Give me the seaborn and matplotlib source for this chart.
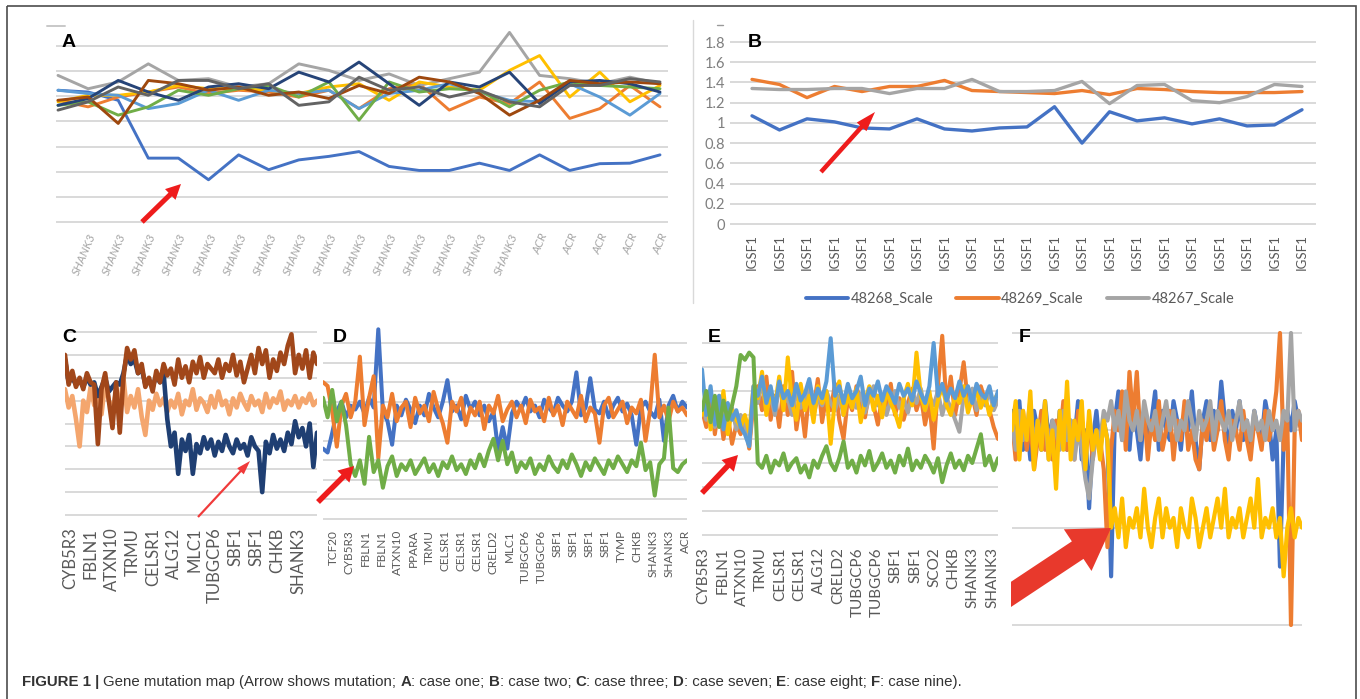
import numpy as np
import pandas as pd
import matplotlib
matplotlib.use("Agg")
import matplotlib.pyplot as plt
import seaborn as sns
from matplotlib import font_manager
from matplotlib.patches import FancyArrow, Rectangle
from matplotlib.lines import Line2D

W, H = 1360, 699

# ---------------- data ----------------
# panel A (case one), 21 points, gridline units 0..7
a_labels = ["SHANK3"] * 15 + ["ACR"] * 5
a_blue = [5.24, 5.17, 4.84, 2.54, 2.54, 1.68, 2.67, 2.08, 2.47, 2.61, 2.80, 2.21, 2.05, 2.05, 2.34, 2.05, 2.67, 2.05, 2.32, 2.34, 2.67]
a_orange = [4.84, 4.58, 4.97, 5.17, 5.37, 5.11, 5.24, 5.17, 4.97, 5.24, 4.51, 5.30, 5.50, 4.45, 4.97, 4.71, 5.57, 4.12, 4.51, 5.43, 4.58]
a_gray = [5.83, 5.30, 5.57, 6.29, 5.63, 5.70, 5.37, 5.50, 6.29, 6.03, 5.63, 5.89, 5.43, 5.70, 5.96, 7.54, 5.83, 5.70, 5.50, 5.76, 5.50]
a_yellow = [4.78, 5.04, 5.04, 5.17, 5.43, 5.30, 5.30, 5.24, 5.11, 5.37, 5.50, 4.84, 5.57, 5.37, 5.24, 6.03, 6.62, 4.97, 5.96, 4.78, 5.43]
a_lightblue = [5.24, 5.11, 5.04, 4.51, 4.71, 5.24, 4.84, 5.24, 5.11, 5.24, 4.51, 5.11, 5.24, 5.50, 5.17, 4.84, 4.78, 5.50, 4.97, 4.25, 5.11]
a_green = [4.64, 4.78, 4.25, 4.58, 5.24, 5.04, 5.30, 5.43, 4.97, 5.57, 4.05, 5.57, 5.17, 5.30, 5.24, 4.58, 5.24, 5.57, 5.43, 5.37, 5.30]
a_navy = [4.64, 4.91, 5.63, 5.17, 4.84, 5.37, 5.50, 5.30, 5.96, 5.57, 6.36, 5.50, 4.64, 5.57, 5.37, 5.96, 4.71, 5.57, 5.63, 5.50, 5.17]
a_brown = [4.84, 4.97, 3.92, 5.63, 5.50, 5.24, 5.37, 5.04, 5.17, 4.91, 5.43, 5.11, 5.76, 5.57, 5.11, 4.25, 4.84, 5.63, 5.50, 5.57, 5.50]
a_darkgray = [4.45, 4.78, 5.37, 5.04, 5.63, 5.63, 5.30, 5.50, 4.64, 4.78, 5.76, 5.24, 5.37, 4.97, 5.24, 4.78, 4.58, 5.43, 5.43, 5.70, 5.57]

# panel B (case two)
b_labels = ["IGSF1"] * 21
b_48268 = [1.07, 0.93, 1.04, 1.01, 0.95, 0.94, 1.04, 0.94, 0.92, 0.95, 0.96, 1.16, 0.80, 1.11, 1.02, 1.05, 0.99, 1.04, 0.97, 0.98, 1.13]
b_48269 = [1.43, 1.38, 1.25, 1.36, 1.31, 1.36, 1.36, 1.42, 1.32, 1.31, 1.30, 1.29, 1.32, 1.28, 1.34, 1.33, 1.31, 1.30, 1.30, 1.30, 1.31]
b_48267 = [1.34, 1.33, 1.33, 1.34, 1.34, 1.29, 1.34, 1.34, 1.43, 1.31, 1.31, 1.32, 1.41, 1.19, 1.37, 1.38, 1.22, 1.20, 1.26, 1.38, 1.36]
b_ticks = [0, 0.2, 0.4, 0.6, 0.8, 1, 1.2, 1.4, 1.6, 1.8]
b_ticklabels = ["0", "0.2", "0.4", "0.6", "0.8", "1", "1.2", "1.4", "1.6", "1.8"]

# panel C (case three), gridline units 0..80
c_labels = ["CYB5R3", "FBLN1", "ATXN10", "TRMU", "CELSR1", "ALG12", "MLC1",
            "TUBGCP6", "SBF1", "SBF1", "CHKB", "SHANK3"]
c_light = [55, 47, 52, 42, 30, 50, 45, 56, 48, 53, 44, 58, 50, 46, 54, 48, 60, 45, 52, 47,
           55, 43, 35, 50, 46, 53, 48, 51, 45, 50, 47, 53, 44, 50, 48, 55, 46, 51, 49, 45,
           52, 47, 54, 48, 50, 44, 51, 47, 53, 49, 46, 52, 48, 50, 45, 53, 47, 51, 49, 54,
           46, 50, 48, 52, 47, 51, 49, 53, 48, 50]
c_navy = [68, 58, 60, 57, 59, 56, 60, 57, 58, 52, 56, 60, 54, 56, 58, 57, 62, 70, 66, 68,
          62, 64, 57, 59, 56, 61, 58, 62, 42, 30, 36, 18, 33, 28, 35, 18, 31, 27, 34, 29,
          33, 26, 32, 28, 35, 30, 27, 33, 29, 31, 26, 34, 30, 28, 10, 32, 27, 35, 29, 33,
          28, 36, 31, 41, 34, 38, 30, 40, 21, 36]
c_brown = [70, 57, 63, 56, 60, 55, 62, 58, 57, 31, 55, 62, 50, 38, 58, 36, 60, 73, 68, 72,
           62, 66, 56, 60, 54, 63, 58, 66, 61, 64, 57, 68, 60, 65, 58, 67, 62, 69, 60, 66,
           64, 62, 68, 60, 66, 63, 70, 61, 67, 58, 64, 70, 62, 73, 66, 72, 60, 68, 63, 71,
           66, 74, 79, 62, 70, 64, 72, 60, 71, 66]

# panel D (case seven), gridline units 0..90
d_labels = ["TCF20", "CYB5R3", "FBLN1", "FBLN1", "ATXN10", "PPARA", "TRMU", "CELSR1",
            "CELSR1", "CELSR1", "CRELD2", "MLC1", "TUBGCP6", "TUBGCP6", "SBF1", "SBF1",
            "SBF1", "SBF1", "TYMP", "CHKB", "SHANK3", "SHANK3", "ACR"]
d_blue = [36, 34, 44, 55, 60, 52, 58, 56, 60, 54, 62, 57, 97, 55, 50, 38, 58, 53, 61, 56,
          49, 58, 53, 64, 57, 52, 60, 71, 55, 58, 51, 63, 56, 60, 53, 58, 50, 55, 35, 47,
          36, 54, 60, 56, 62, 55, 58, 52, 61, 57, 54, 62, 58, 55, 60, 75, 53, 57, 72, 56,
          54, 60, 52, 58, 62, 55, 59, 53, 38, 57, 60, 55, 52, 61, 40, 58, 63, 55, 60, 57]
d_orange = [70, 68, 55, 37, 58, 64, 52, 60, 83, 48, 62, 73, 31, 58, 52, 64, 50, 57, 60, 47,
            62, 54, 58, 50, 65, 56, 49, 39, 60, 55, 62, 48, 57, 53, 60, 46, 58, 54, 63, 50,
            56, 60, 52, 58, 49, 61, 55, 57, 50, 62, 53, 58, 48, 60, 56, 52, 63, 50, 57, 54,
            39, 58, 62, 52, 56, 60, 49, 57, 54, 61, 40, 56, 84, 52, 58, 50, 60, 55, 57, 53]
d_green = [62, 52, 66, 50, 60, 48, 28, 22, 30, 18, 42, 24, 30, 16, 27, 32, 22, 28, 25, 30,
           23, 27, 31, 24, 28, 22, 29, 26, 32, 25, 28, 23, 30, 26, 33, 27, 35, 41, 30, 40,
           28, 34, 24, 29, 26, 31, 23, 28, 25, 32, 27, 24, 30, 26, 33, 28, 22, 29, 25, 31,
           27, 23, 30, 26, 32, 28, 24, 30, 27, 39, 25, 29, 12, 28, 31, 57, 26, 24, 28, 30]

# panel E (case eight), gridline units 0..80
e_labels = ["CYB5R3", "FBLN1", "ATXN10", "TRMU", "CELSR1", "CELSR1", "ALG12", "CRELD2",
            "TUBGCP6", "TUBGCP6", "SBF1", "SBF1", "SCO2", "CHKB", "SHANK3", "SHANK3"]
e_orange = [52, 45, 58, 42, 55, 40, 50, 38, 46, 42, 48, 36, 55, 62, 52, 66, 48, 58, 45, 62,
            50, 68, 44, 56, 41, 60, 53, 65, 47, 58, 52, 63, 48, 40, 57, 52, 62, 55, 49, 60,
            54, 46, 58, 52, 63, 50, 57, 48, 55, 61, 52, 58, 46, 55, 36, 62, 83, 54, 66, 50,
            60, 72, 55, 58, 50, 62, 56, 52, 45, 40]
e_gray = [55, 48, 52, 45, 58, 50, 47, 53, 44, 50, 46, 37, 60, 55, 64, 52, 58, 50, 62, 55,
          57, 50, 60, 53, 56, 62, 50, 57, 54, 60, 55, 52, 58, 50, 62, 56, 53, 59, 51, 57,
          62, 54, 58, 50, 56, 60, 53, 57, 51, 59, 55, 61, 52, 58, 54, 60, 50, 57, 53, 48,
          43, 58, 55, 61, 52, 57, 54, 60, 52, 56]
e_yellow = [50, 58, 44, 55, 47, 60, 42, 52, 48, 45, 50, 43, 62, 57, 68, 50, 60, 54, 66, 52,
            74, 55, 48, 63, 52, 58, 47, 62, 55, 60, 38, 57, 64, 50, 58, 53, 61, 47, 56, 62,
            52, 58, 49, 60, 55, 51, 45, 57, 63, 54, 76, 58, 52, 60, 48, 56, 62, 54, 50, 58,
            55, 62, 51, 57, 60, 53, 58, 50, 56, 59]
e_blue = [69, 50, 62, 46, 58, 44, 55, 48, 52, 45, 42, 37, 62, 58, 66, 55, 62, 52, 64, 57,
          60, 54, 63, 56, 59, 65, 55, 61, 57, 64, 82, 58, 62, 55, 63, 57, 60, 66, 54, 61,
          58, 64, 56, 62, 59, 55, 63, 58, 61, 56, 64, 59, 55, 62, 80, 58, 63, 56, 61, 57,
          64, 58, 62, 55, 63, 59, 57, 62, 54, 60]
e_green = [52, 60, 47, 58, 45, 56, 48, 54, 62, 75, 73, 76, 74, 30, 28, 33, 26, 31, 29, 34,
           27, 30, 32, 26, 29, 24, 31, 28, 33, 37, 30, 27, 32, 39, 28, 31, 26, 33, 29, 35,
           27, 30, 34, 28, 31, 26, 33, 29, 36, 27, 31, 28, 33, 30, 26, 32, 22, 29, 34, 28,
           31, 27, 33, 30, 36, 42, 29, 33, 27, 32]

# panel F (case nine), gridline units 0..30
f_blue = [22, 19, 23, 18, 21, 17, 22, 20, 18, 23, 19, 21, 17, 22, 20, 18, 21, 19, 23, 17,
          20, 12, 19, 22, 18, 21, 19, 5, 21, 24, 19, 22, 18, 23, 20, 17, 22, 19, 21, 24,
          18, 22, 20, 19, 23, 21, 18, 22, 20, 24, 19, 16, 21, 23, 19, 22, 20, 25, 21, 18,
          22, 20, 23, 19, 21, 18, 22, 20, 19, 23, 21, 17, 20, 6, 19, 22, 20, 23, 21, 20]
f_orange = [21, 17, 20, 22, 18, 21, 16, 19, 22, 18, 20, 17, 21, 19, 23, 18, 20, 17, 22, 19,
            18, 21, 17, 20, 19, 16, 8, 18, 22, 20, 24, 18, 26, 21, 26, 19, 22, 17, 21, 19,
            23, 18, 20, 22, 17, 21, 19, 23, 18, 20, 17, 16, 21, 19, 22, 18, 20, 23, 19, 17,
            21, 20, 18, 22, 19, 17, 21, 20, 18, 22, 19, 21, 24, 30, 18, 21, 0, 20, 22, 19]
f_gray = [21, 18, 22, 19, 20, 23, 18, 21, 19, 22, 17, 21, 20, 18, 22, 19, 21, 17, 20, 18,
          15, 13, 17, 20, 19, 22, 21, 23, 20, 22, 19, 24, 21, 20, 22, 19, 23, 21, 20, 22,
          19, 21, 23, 20, 22, 19, 21, 20, 23, 21, 19, 22, 20, 21, 23, 19, 22, 21, 20, 22,
          19, 21, 23, 20, 21, 19, 22, 20, 21, 19, 22, 20, 21, 19, 22, 21, 30, 20, 22, 21]
f_yellow = [20, 23, 17, 22, 19, 24, 16, 21, 18, 23, 17, 20, 14, 22, 18, 25, 17, 21, 19, 23,
            16, 22, 18, 20, 17, 21, 19, 10, 12, 9, 13, 8, 11, 10, 12, 9, 14, 10, 8, 11,
            13, 9, 12, 10, 11, 8, 12, 10, 9, 13, 11, 8, 10, 12, 9, 11, 13, 10, 14, 9,
            11, 10, 12, 9, 11, 13, 10, 15, 9, 11, 10, 12, 9, 11, 5, 10, 12, 9, 11, 10]

# excel-like colours
BLUE, ORANGE, GRAY, YELLOW = "#4472C4", "#ED7D31", "#A5A5A5", "#FFC000"
LBLUE, GREEN, NAVY, BROWN, DGRAY = "#5B9BD5", "#70AD47", "#264478", "#9E480E", "#636363"
GRID = "#D9D9D9"
RED = "#EE1C1C"

# ---------------- setup ----------------
sns.set_theme(style="white")
plt.rcParams['font.family'] = ['Lato', 'DejaVu Sans']
plt.rcParams['lines.solid_joinstyle'] = 'round'

fig = plt.figure(figsize=(W / 100, H / 100), dpi=100)
fig.patch.set_facecolor("white")


def data_axes(xp, xv, yp, yv, xlim, ylim):
    # place an axes so that data values xv/yv land on pixel positions xp/yp
    sx = (xp[1] - xp[0]) / (xv[1] - xv[0])
    sy = (yp[1] - yp[0]) / (yv[1] - yv[0])
    x0 = xp[0] + (xlim[0] - xv[0]) * sx
    x1 = xp[0] + (xlim[1] - xv[0]) * sx
    ytop = yp[0] + (ylim[1] - yv[0]) * sy
    ybot = yp[0] + (ylim[0] - yv[0]) * sy
    ax = fig.add_axes([x0 / W, 1 - ybot / H, (x1 - x0) / W, (ybot - ytop) / H])
    ax.set_xlim(*xlim)
    ax.set_ylim(*ylim)
    return ax


def long_df(series):
    frames = [pd.DataFrame({"x": np.arange(len(v)), "y": v, "series": k})
              for k, v in series.items()]
    return pd.concat(frames, ignore_index=True)


def draw(ax, series, colors, lw):
    df = long_df(series)
    names = list(series.keys())
    sns.lineplot(data=df, x="x", y="y", hue="series", hue_order=names,
                 palette=dict(zip(names, colors)), linewidth=lw,
                 estimator=None, legend=False, ax=ax)


def style(ax, grid):
    ax.set_yticks(grid)
    ax.grid(axis="y", color=GRID, linewidth=1.4)
    ax.grid(axis="x", visible=False)
    ax.set_axisbelow(True)
    for s in ax.spines.values():
        s.set_visible(False)
    ax.tick_params(length=0)
    ax.set_xlabel("")
    ax.set_ylabel("")
    ax.patch.set_alpha(0)


# ---------------- panel A ----------------
ax_a = data_axes((58, 660), (0, 20), (222, 46), (0, 7), (-0.05, 20.27), (-0.1, 8.03))
draw(ax_a, {"1": a_blue, "2": a_orange, "3": a_gray, "4": a_yellow, "5": a_lightblue,
            "6": a_green, "7": a_navy, "8": a_brown, "9": a_darkgray},
     [BLUE, ORANGE, GRAY, YELLOW, LBLUE, GREEN, NAVY, BROWN, DGRAY], 2.1)
style(ax_a, range(0, 8))
ax_a.set_yticklabels([])
ax_a.set_xticks(np.arange(1, 21))
ax_a.set_xticklabels(a_labels, rotation=67, ha="right", va="top", rotation_mode="anchor",
                     fontsize=8.5, color="#A6A6A6", style="italic")
ax_a.tick_params(axis="x", pad=5)

# ---------------- panel B ----------------
ax_b = data_axes((752, 1302), (0, 20), (224, 42), (0, 1.8), (-0.8, 20.51), (-0.02, 2.0))
draw(ax_b, {"48268_Scale": b_48268, "48269_Scale": b_48269, "48267_Scale": b_48267},
     [BLUE, ORANGE, GRAY], 2.4)
style(ax_b, b_ticks)
ax_b.set_yticklabels(b_ticklabels, fontsize=10.5, color="#7F7F7F")
ax_b.tick_params(axis="y", pad=3.5)
ax_b.set_xticks(np.arange(21))
ax_b.set_xticklabels(b_labels, rotation=90, ha="center", va="top", fontsize=9.5, color="#595959")
ax_b.tick_params(axis="x", pad=6)
handles = [Line2D([], [], color=c, lw=2.8) for c in [BLUE, ORANGE, GRAY]]
fig.legend(handles, ["48268_Scale", "48269_Scale", "48267_Scale"], loc="center",
           bbox_to_anchor=(1020 / W, 1 - 299 / H), ncol=3, frameon=False,
           handlelength=2.9, handletextpad=0.15, columnspacing=1.6,
           fontsize=10.5, labelcolor="#595959")

# ---------------- panel C ----------------
ax_c = data_axes((65, 317), (0, 69), (515, 332), (0, 80), (0, 69), (-1, 82))
draw(ax_c, {"light": c_light, "navy": c_navy, "brown": c_brown},
     ["#F4A66E", "#1F3F73", "#A1471A"], 3.3)
style(ax_c, range(0, 81, 10))
ax_c.set_yticklabels([])
ax_c.set_xticks(np.linspace(1.4, 63.8, len(c_labels)))
ax_c.set_xticklabels(c_labels, rotation=90, ha="center", va="top", fontsize=12, color="#595959")
ax_c.tick_params(axis="x", pad=7.5)

# ---------------- panel D ----------------
ax_d = data_axes((323, 687), (0, 79), (519, 343), (0, 90), (0, 79), (-1, 99))
draw(ax_d, {"blue": d_blue, "orange": d_orange, "green": d_green},
     [BLUE, ORANGE, GREEN], 2.9)
style(ax_d, range(0, 91, 10))
ax_d.set_yticklabels([])
ax_d.set_xticks(np.linspace(2.2, 78.6, len(d_labels)))
ax_d.set_xticklabels(d_labels, rotation=90, ha="center", va="top", fontsize=8.5, color="#595959")
ax_d.tick_params(axis="x", pad=6.5)

# ---------------- panel E ----------------
ax_e = data_axes((702, 998), (0, 69), (535, 343), (0, 80), (0, 69), (-1, 84))
draw(ax_e, {"orange": e_orange, "gray": e_gray, "yellow": e_yellow, "blue": e_blue,
            "green": e_green},
     [ORANGE, GRAY, YELLOW, LBLUE, GREEN], 2.9)
style(ax_e, range(0, 81, 10))
ax_e.set_yticklabels([])
ax_e.set_xticks(np.linspace(0.3, 67.6, len(e_labels)))
ax_e.set_xticklabels(e_labels, rotation=90, ha="center", va="top", fontsize=11, color="#595959")
ax_e.tick_params(axis="x", pad=7)

# ---------------- panel F ----------------
ax_f = data_axes((1012, 1302), (0, 79), (625, 333), (0, 30), (0, 79), (-0.3, 30.3))
draw(ax_f, {"blue": f_blue, "orange": f_orange, "gray": f_gray, "yellow": f_yellow},
     [BLUE, ORANGE, GRAY, YELLOW], 3.0)
style(ax_f, [0, 10, 20, 30])
ax_f.set_yticklabels([])
ax_f.set_xticks([])

# ---------------- overlay: frame, letters, arrows, caption ----------------
ov = fig.add_axes([0, 0, 1, 1])
ov.set_xlim(0, W)
ov.set_ylim(H, 0)
ov.set_axis_off()

ov.add_patch(Rectangle((7, 6), 1349, 700, fill=False, ec="#4D4D4D", lw=1.2))
ov.plot([693, 693], [20, 303], color=GRID, lw=1.0)
ov.plot([47, 65], [26, 26], color="#C8C8C8", lw=1.4)
ov.plot([717, 723], [25, 25], color="#9A9A9A", lw=1.0)

for letter, x, y in [("A", 62, 47), ("B", 748, 47), ("C", 62, 342), ("D", 333, 342),
                     ("E", 708, 342), ("F", 1019, 342)]:
    ov.text(x, y, letter, fontsize=14, fontweight="bold", family="Liberation Sans",
            color="black", ha="left", va="baseline")


def arrow(x0, y0, x1, y1, width, hw, hl, color=RED, clip=None):
    p = FancyArrow(x0, y0, x1 - x0, y1 - y0, width=width, head_width=hw, head_length=hl,
                   length_includes_head=True, color=color, lw=0)
    ov.add_patch(p)
    if clip is not None:
        r = Rectangle(clip[:2], clip[2], clip[3], transform=ov.transData)
        p.set_clip_path(r)


arrow(142, 222, 181, 184, 5, 15, 15)
arrow(821, 172, 875, 112, 4.5, 13, 20)
arrow(198, 517, 250, 461, 2.2, 9, 14, color="#F03A3A")
arrow(318, 502, 354, 466, 5.5, 17, 15)
arrow(702, 493, 738, 455, 5.5, 17, 15)
arrow(998, 603, 1111, 528, 21, 50, 40, color="#E8392C", clip=(1011, 450, 200, 200))

# caption with bold pieces
names = {f.name for f in font_manager.fontManager.ttflist}
cap_font = "Liberation Sans Narrow" if "Liberation Sans Narrow" in names else "Liberation Sans"
pieces = [("FIGURE 1 | ", True), ("Gene mutation map (Arrow shows mutation; ", False),
          ("A", True), (": case one; ", False), ("B", True), (": case two; ", False),
          ("C", True), (": case three; ", False), ("D", True), (": case seven; ", False),
          ("E", True), (": case eight; ", False), ("F", True), (": case nine).", False)]
renderer = fig.canvas.get_renderer()


def advance(s, size, bold):
    kw = dict(fontsize=size, fontweight="bold" if bold else "normal", family=cap_font)
    t1 = ov.text(0, 0, s + "x", **kw)
    t2 = ov.text(0, 0, "x", **kw)
    w = t1.get_window_extent(renderer).width - t2.get_window_extent(renderer).width
    t1.remove()
    t2.remove()
    return w


def caption(size, draw_it):
    x = 22
    for s, b in pieces:
        if draw_it:
            ov.text(x, 686, s, fontsize=size, fontweight="bold" if b else "normal",
                    family=cap_font, color="#333333", ha="left", va="baseline")
        x += advance(s, size, b)
    return x - 22


w0 = caption(10, False)
caption(10 * 940 / w0, True)

fig.savefig("out.png", dpi=100, facecolor="white")
